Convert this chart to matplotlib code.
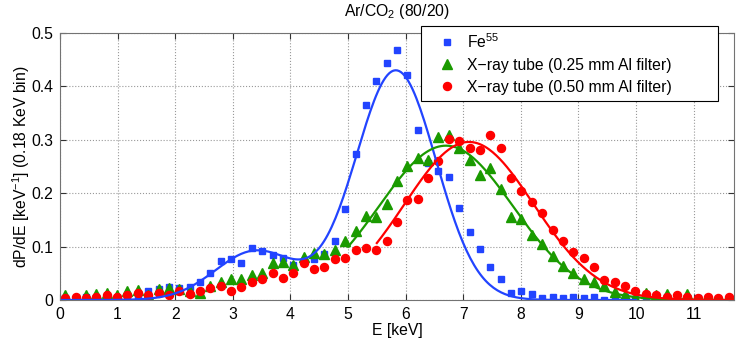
"""Ar/CO2 (80/20) energy spectra: Fe55 source vs X-ray tube with Al filters."""

import matplotlib

matplotlib.use("Agg")
import matplotlib.pyplot as plt  # noqa: E402
import numpy as np  # noqa: E402

plt.rcParams["font.family"] = ["Liberation Sans", "DejaVu Sans"]
plt.rcParams["mathtext.fontset"] = "custom"
plt.rcParams["mathtext.rm"] = "Liberation Sans"

FS = 11.3

# 65 bins of 0.18 keV, points drawn at bin centres
bin_width = 0.18
n_bins = 65

fe55 = [0.003, 0.002, 0.006, 0.003, 0.004, 0.003, 0.005, 0.006, 0.017, 0.020,
        0.025, 0.022, 0.024, 0.033, 0.051, 0.073, 0.076, 0.070, 0.098, 0.091,
        0.084, 0.078, 0.066, 0.073, 0.077, 0.087, 0.110, 0.171, 0.274, 0.366,
        0.411, 0.444, 0.469, 0.422, 0.319, 0.256, 0.241, 0.230, 0.173, 0.128,
        0.095, 0.062, 0.039, 0.014, 0.016, 0.011, 0.003, 0.006, 0.003, 0.006,
        0.003, 0.006, 0.000, 0.003, 0.005, 0.002, 0.006, 0.003, 0.005, 0.002,
        0.004, 0.003, 0.004, 0.002, 0.003]

tube_025 = [0.009, 0.004, 0.010, 0.012, 0.013, 0.009, 0.016, 0.018, 0.009, 0.021,
            0.022, 0.020, 0.017, 0.014, 0.026, 0.033, 0.040, 0.040, 0.047, 0.051,
            0.069, 0.072, 0.065, 0.081, 0.088, 0.086, 0.093, 0.111, 0.130, 0.158,
            0.155, 0.179, 0.223, 0.251, 0.265, 0.262, 0.305, 0.309, 0.284, 0.262,
            0.234, 0.247, 0.207, 0.156, 0.151, 0.121, 0.105, 0.082, 0.064, 0.051,
            0.040, 0.033, 0.026, 0.015, 0.009, 0.004, 0.014, 0.009, 0.011, 0.006,
            0.011, 0.000, 0.001, 0.000, 0.003]

tube_050 = [0.003, 0.006, 0.003, 0.006, 0.010, 0.006, 0.010, 0.013, 0.009, 0.014,
            0.010, 0.017, 0.012, 0.016, 0.023, 0.027, 0.017, 0.024, 0.034, 0.040,
            0.051, 0.041, 0.051, 0.069, 0.058, 0.062, 0.076, 0.079, 0.093, 0.097,
            0.093, 0.110, 0.146, 0.187, 0.190, 0.229, 0.260, 0.302, 0.298, 0.284,
            0.280, 0.309, 0.285, 0.229, 0.204, 0.184, 0.162, 0.132, 0.111, 0.089,
            0.079, 0.062, 0.037, 0.033, 0.026, 0.016, 0.012, 0.009, 0.006, 0.009,
            0.006, 0.003, 0.006, 0.003, 0.006]

# gaussian fit parameters: (amplitude, mean, sigma)
fe55_fit = [(0.43, 5.83, 0.70), (0.092, 3.4, 0.70)]  # main peak + escape peak
tube_025_fit = [(0.289, 6.70, 1.165)]
tube_050_fit = [(0.296, 7.10, 1.12)]
fe55_range = (0.0, 10.0)
tube_025_range = (5.0, 11.7)
tube_050_range = (5.5, 11.7)

labels = ["Fe$^{55}$", "X\u2212ray tube (0.25 mm Al filter)", "X\u2212ray tube (0.50 mm Al filter)"]
colors = ["#2244ff", "#1a9a00", "#ff0000"]
xticks = list(range(12))
yticks = [0, 0.1, 0.2, 0.3, 0.4, 0.5]
yticklabels = ["0", "0.1", "0.2", "0.3", "0.4", "0.5"]


def fit_curve(params, lo, hi):
    x = np.linspace(lo, hi, 300)
    y = np.zeros_like(x)
    for amp, mu, sig in params:
        y += amp * np.exp(-((x - mu) ** 2) / (2 * sig ** 2))
    return x, y


energy = (np.arange(n_bins) + 0.5) * bin_width

fig = plt.figure(figsize=(7.52, 3.43), dpi=100)
ax = fig.add_axes([60 / 752, 1 - 300 / 343, 674 / 752, 267 / 343])

series = [
    (fe55, "s", 4.3, fe55_fit, fe55_range),
    (tube_025, "^", 7.0, tube_025_fit, tube_025_range),
    (tube_050, "o", 5.8, tube_050_fit, tube_050_range),
]
handles = []
for (vals, marker, ms, fit, rng), color, label in zip(series, colors, labels):
    h, = ax.plot(energy, vals, linestyle="none", marker=marker, ms=ms,
                 color=color, mec=color, label=label)
    handles.append(h)
for (vals, marker, ms, fit, rng), color in zip(series, colors):
    xs, ys = fit_curve(fit, *rng)
    ax.plot(xs, ys, color=color, lw=1.6)

ax.set_xlim(0, n_bins * bin_width)
ax.set_ylim(0, 0.5)
ax.set_xticks(xticks)
ax.set_yticks(yticks)
ax.set_yticklabels(yticklabels)
ax.tick_params(direction="in", top=True, right=True, length=4, labelsize=FS,
               color="0.2", pad=5)
for sp in ax.spines.values():
    sp.set_color("0.45")
ax.grid(True, linestyle=":", color="0.6", linewidth=0.8)

ax.set_xlabel("E [keV]", fontsize=FS, labelpad=1)
ax.set_ylabel("dP/dE [keV$^{-1}$] (0.18 KeV bin)", fontsize=FS, labelpad=-1)
ax.set_title("Ar/CO$_2$ (80/20)", fontsize=FS, pad=12)

leg = fig.legend(handles=handles, loc="upper left",
                 bbox_to_anchor=(420.7 / 752, 1 - 97.7 / 343, 297 / 752, 72 / 343),
                 mode="expand", fontsize=FS, frameon=True, fancybox=False,
                 edgecolor="black", framealpha=1, borderpad=0.4, labelspacing=0.45,
                 handlelength=2.55, handletextpad=0.0, borderaxespad=0)
leg.get_frame().set_linewidth(0.8)

fig.savefig("out.png", dpi=100)
